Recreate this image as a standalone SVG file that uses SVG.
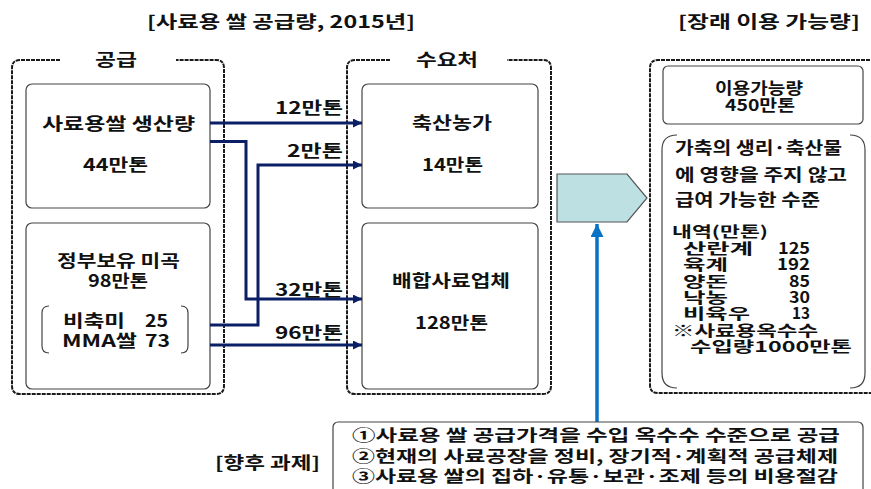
<svg xmlns="http://www.w3.org/2000/svg" width="871" height="489" viewBox="0 0 871 489">
<defs>
<style>
text{font-family:"Noto Sans CJK KR","Noto Sans",sans-serif;font-weight:bold;font-size:17px;fill:#111}
.s{font-size:15px}
.m{font-size:16px}
.d{font-size:16px}
.outer{fill:none;stroke:#1a1a1a;stroke-width:2;stroke-dasharray:4 1}
.inner{fill:#fff;stroke:#444;stroke-width:1.2}
.brk{fill:none;stroke:#444;stroke-width:1.2}
.flow{fill:none;stroke:#0a1f66;stroke-width:3}
</style>
<marker id="ah" viewBox="0 0 10 10" refX="10" refY="5" markerWidth="10" markerHeight="9" markerUnits="userSpaceOnUse" orient="auto"><path d="M0 0L10 5L0 10z" fill="#0a1f66"/></marker>
<marker id="bh" viewBox="0 0 10 10" refX="10" refY="5" markerWidth="13" markerHeight="13" markerUnits="userSpaceOnUse" orient="auto"><path d="M0 0L10 5L0 10z" fill="#0a72c4"/></marker>
</defs>
<rect width="871" height="489" fill="#fff"/>
<text x="147" y="28" textLength="268" lengthAdjust="spacingAndGlyphs">[사료용 쌀 공급량, 2015년]</text>
<text x="678" y="28" textLength="182" lengthAdjust="spacingAndGlyphs">[장래 이용 가능량]</text>

<g id="supply">
<path class="outer" d="M60 60H20Q12 60 12 68V386Q12 394 20 394H216Q224 394 224 386V68Q224 60 216 60H176"/>
<text x="95" y="66" textLength="42" lengthAdjust="spacingAndGlyphs">공급</text>
</g>
<g id="rice-production">
<rect class="inner" x="26" y="84" width="184" height="124" rx="6"/>
<text x="42" y="130" textLength="153" lengthAdjust="spacingAndGlyphs">사료용쌀 생산량</text>
<text x="83" y="171" textLength="65" lengthAdjust="spacingAndGlyphs">44만톤</text>
</g>
<g id="gov-rice">
<rect class="inner" x="26" y="223" width="184" height="166" rx="6"/>
<text x="57" y="267" textLength="123" lengthAdjust="spacingAndGlyphs">정부보유 미곡</text>
<text x="88" y="287" textLength="60" lengthAdjust="spacingAndGlyphs">98만톤</text>
<path class="brk" d="M49 306Q42 306 42 313V346Q42 353 49 353M181 306Q188 306 188 313V346Q188 353 181 353"/>
<text y="327"><tspan x="63" textLength="62" lengthAdjust="spacingAndGlyphs">비축미</tspan><tspan x="145" textLength="23" lengthAdjust="spacingAndGlyphs">25</tspan></text>
<text y="347"><tspan x="62" textLength="75" lengthAdjust="spacingAndGlyphs">MMA쌀</tspan><tspan x="145" textLength="25" lengthAdjust="spacingAndGlyphs">73</tspan></text>
</g>

<g id="demand">
<path class="outer" d="M390 60H355Q347 60 347 68V386Q347 394 355 394H543Q551 394 551 386V68Q551 60 543 60H507"/>
<text x="416" y="66" textLength="62" lengthAdjust="spacingAndGlyphs">수요처</text>
</g>
<g id="livestock-farms">
<rect class="inner" x="362" y="84" width="176" height="124" rx="6"/>
<text x="412" y="129" textLength="80" lengthAdjust="spacingAndGlyphs">축산농가</text>
<text x="422" y="171" textLength="61" lengthAdjust="spacingAndGlyphs">14만톤</text>
</g>
<g id="feed-companies">
<rect class="inner" x="362" y="223" width="176" height="166" rx="6"/>
<text x="392" y="287" textLength="118" lengthAdjust="spacingAndGlyphs">배합사료업체</text>
<text x="415" y="329" textLength="73" lengthAdjust="spacingAndGlyphs">128만톤</text>
</g>

<g id="connectors">
<path class="flow" marker-end="url(#ah)" d="M210 123H362"/>
<path class="flow" marker-end="url(#ah)" d="M210 141.5H246V299H362"/>
<path class="flow" marker-end="url(#ah)" d="M210 325H258V165H362"/>
<path class="flow" marker-end="url(#ah)" d="M210 345H362"/>
<path d="M597 422V224" fill="none" stroke="#0a72c4" stroke-width="3.5" marker-end="url(#bh)"/>
<text x="275" y="114" textLength="68" lengthAdjust="spacingAndGlyphs">12만톤</text>
<text x="287" y="157" textLength="56" lengthAdjust="spacingAndGlyphs">2만톤</text>
<text x="275" y="296" textLength="68" lengthAdjust="spacingAndGlyphs">32만톤</text>
<text x="275" y="339" textLength="68" lengthAdjust="spacingAndGlyphs">96만톤</text>
</g>

<g id="big-arrow">
<path d="M557 174H627L647 198L627 222H557Z" fill="#bde0e3" stroke="#555" stroke-width="1.2"/>
</g>

<g id="future">
<path class="outer" d="M885 60H658Q650 60 650 68V385Q650 393 658 393H885"/>
</g>
<g id="available">
<rect class="inner" x="663" y="66" width="200" height="58" rx="5"/>
<text class="m" x="715" y="94" textLength="88" lengthAdjust="spacingAndGlyphs">이용가능량</text>
<text class="m" x="725" y="111" textLength="70" lengthAdjust="spacingAndGlyphs">450만톤</text>
</g>
<g id="breakdown">
<path class="brk" d="M677 135Q662 135 662 150V373Q662 388 677 388M850 135Q865 135 865 150V373Q865 388 850 388"/>
<text x="675" y="154" textLength="167" lengthAdjust="spacingAndGlyphs">가축의 생리·축산물</text>
<text x="675" y="181" textLength="172" lengthAdjust="spacingAndGlyphs">에 영향을 주지 않고</text>
<text x="675" y="206" textLength="145" lengthAdjust="spacingAndGlyphs">급여 가능한 수준</text>
<text class="s" x="672" y="237" textLength="96" lengthAdjust="spacingAndGlyphs">내역(만톤)</text>
<text class="s" y="254"><tspan x="683" textLength="70" lengthAdjust="spacingAndGlyphs">산란계</tspan><tspan class="d" x="778" textLength="32" lengthAdjust="spacingAndGlyphs">125</tspan></text>
<text class="s" y="270"><tspan x="683" textLength="45" lengthAdjust="spacingAndGlyphs">육계</tspan><tspan class="d" x="777" textLength="33" lengthAdjust="spacingAndGlyphs">192</tspan></text>
<text class="s" y="287"><tspan x="683" textLength="45" lengthAdjust="spacingAndGlyphs">양돈</tspan><tspan class="d" x="789" textLength="21" lengthAdjust="spacingAndGlyphs">85</tspan></text>
<text class="s" y="303"><tspan x="683" textLength="45" lengthAdjust="spacingAndGlyphs">낙농</tspan><tspan class="d" x="789" textLength="21" lengthAdjust="spacingAndGlyphs">30</tspan></text>
<text class="s" y="319"><tspan x="683" textLength="67" lengthAdjust="spacingAndGlyphs">비육우</tspan><tspan class="d" x="792" textLength="18" lengthAdjust="spacingAndGlyphs">13</tspan></text>
<text class="s" x="672" y="336" textLength="146" lengthAdjust="spacingAndGlyphs">※사료용옥수수</text>
<text class="s" x="690" y="352" textLength="162" lengthAdjust="spacingAndGlyphs">수입량1000만톤</text>
</g>

<g id="tasks">
<text x="215" y="469" textLength="105" lengthAdjust="spacingAndGlyphs">[향후 과제]</text>
<rect class="inner" x="333" y="422" width="530" height="80" rx="5"/>
<text class="m" x="352" y="441" textLength="488" lengthAdjust="spacingAndGlyphs">①사료용 쌀 공급가격을 수입 옥수수 수준으로 공급</text>
<text class="m" x="352" y="462" textLength="486" lengthAdjust="spacingAndGlyphs">②현재의 사료공장을 정비, 장기적·계획적 공급체제</text>
<text class="m" x="352" y="482" textLength="486" lengthAdjust="spacingAndGlyphs">③사료용 쌀의 집하·유통·보관·조제 등의 비용절감</text>
</g>
</svg>
